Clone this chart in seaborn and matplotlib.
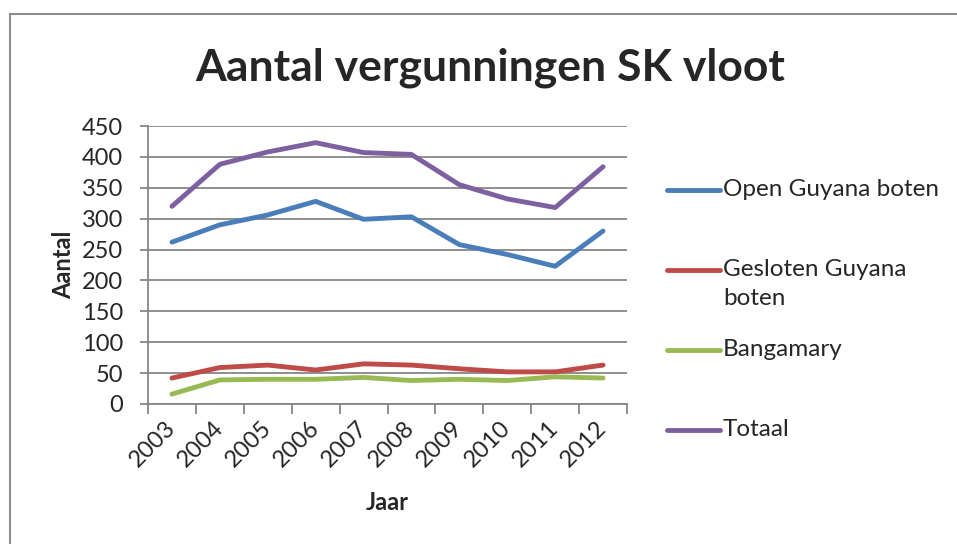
import matplotlib.pyplot as plt
import matplotlib.patches as mpatches
from matplotlib.lines import Line2D
import seaborn as sns
import pandas as pd

jaren = ["2003", "2004", "2005", "2006", "2007", "2008", "2009", "2010", "2011", "2012"]
open_guyana = [262, 290, 306, 328, 299, 303, 258, 242, 223, 280]
gesloten_guyana = [42, 59, 63, 55, 65, 63, 57, 52, 52, 63]
bangamary = [16, 39, 40, 40, 43, 38, 40, 38, 44, 42]
totaal = [320, 388, 408, 423, 407, 404, 355, 332, 318, 384]

reeksen = ["Open Guyana boten", "Gesloten Guyana boten", "Bangamary", "Totaal"]
legend_labels = ["Open Guyana boten", "Gesloten Guyana\nboten", "Bangamary", "Totaal"]
kleuren = ["#4A7EBB", "#BE4B48", "#98B954", "#7D60A0"]

rows = []
for naam, waarden in zip(reeksen, [open_guyana, gesloten_guyana, bangamary, totaal]):
    for i, (j, v) in enumerate(zip(jaren, waarden)):
        rows.append({"pos": i, "Jaar": j, "Aantal": v, "reeks": naam})
df = pd.DataFrame(rows)

sns.set_style("white")
plt.rcParams['font.family'] = ['Lato', 'DejaVu Sans']

fig = plt.figure(figsize=(9.57, 5.44), dpi=100)
ax = fig.add_axes([148 / 957, 1 - 404 / 544, 479 / 957, 278 / 544])

sns.lineplot(data=df, x="pos", y="Aantal", hue="reeks", hue_order=reeksen,
             palette=kleuren, linewidth=3.5, legend=False, ax=ax,
             solid_capstyle="round")

grijs = "#868686"
ax.set_xlim(-0.5, len(jaren) - 0.5)
ax.set_ylim(0, 450)
ax.set_yticks(range(0, 451, 50))
ax.yaxis.grid(True, color=grijs, linewidth=1.3)
ax.set_axisbelow(True)
for s in ["top", "right"]:
    ax.spines[s].set_visible(False)
for s in ["left", "bottom"]:
    ax.spines[s].set_color(grijs)
    ax.spines[s].set_linewidth(1.3)

# ticks op de grenzen tussen de categorieen, labels in het midden
ax.set_xticks([i - 0.5 for i in range(len(jaren) + 1)])
ax.set_xticklabels([])
ax.set_xticks(range(len(jaren)), minor=True)
ax.set_xticklabels(jaren, minor=True, rotation=45, ha="right", va="center",
                   rotation_mode="anchor", fontsize=17)
ax.tick_params(axis="x", which="major", direction="out", length=7, width=1.3,
               color=grijs, bottom=True)
ax.tick_params(axis="x", which="minor", length=0, pad=15)
ax.tick_params(axis="y", direction="out", length=6, width=1.3, color=grijs,
               left=True, labelsize=17, pad=12)

ax.set_xlabel("Jaar", fontsize=17, fontweight="bold", labelpad=14)
ax.set_ylabel("Aantal", fontsize=17, fontweight="bold", labelpad=5)

fig.text(490 / 957, 1 - 68 / 544, "Aantal vergunningen SK vloot",
         fontsize=32, fontweight="bold", ha="center", va="center")

# handmatige legenda, zoals Excel die uitzet
legend_y = [190, 270, 350, 430]
for lab, kleur, y in zip(legend_labels, kleuren, legend_y):
    yf = 1 - y / 544
    fig.add_artist(Line2D([667 / 957, 720 / 957], [yf, yf], color=kleur,
                          linewidth=3.5, solid_capstyle="round",
                          transform=fig.transFigure))
    fig.text(723 / 957, yf + 11 / 544, lab, fontsize=17.5, ha="left", va="top",
             linespacing=1.45)

# rand om het diagram
fig.add_artist(mpatches.Rectangle((10 / 957, -0.1), 1.2, 1 - 14 / 544 + 0.1,
                                  transform=fig.transFigure, fill=False,
                                  edgecolor="#8c8c8c", linewidth=1.5))

fig.savefig("out.png", dpi=100)
